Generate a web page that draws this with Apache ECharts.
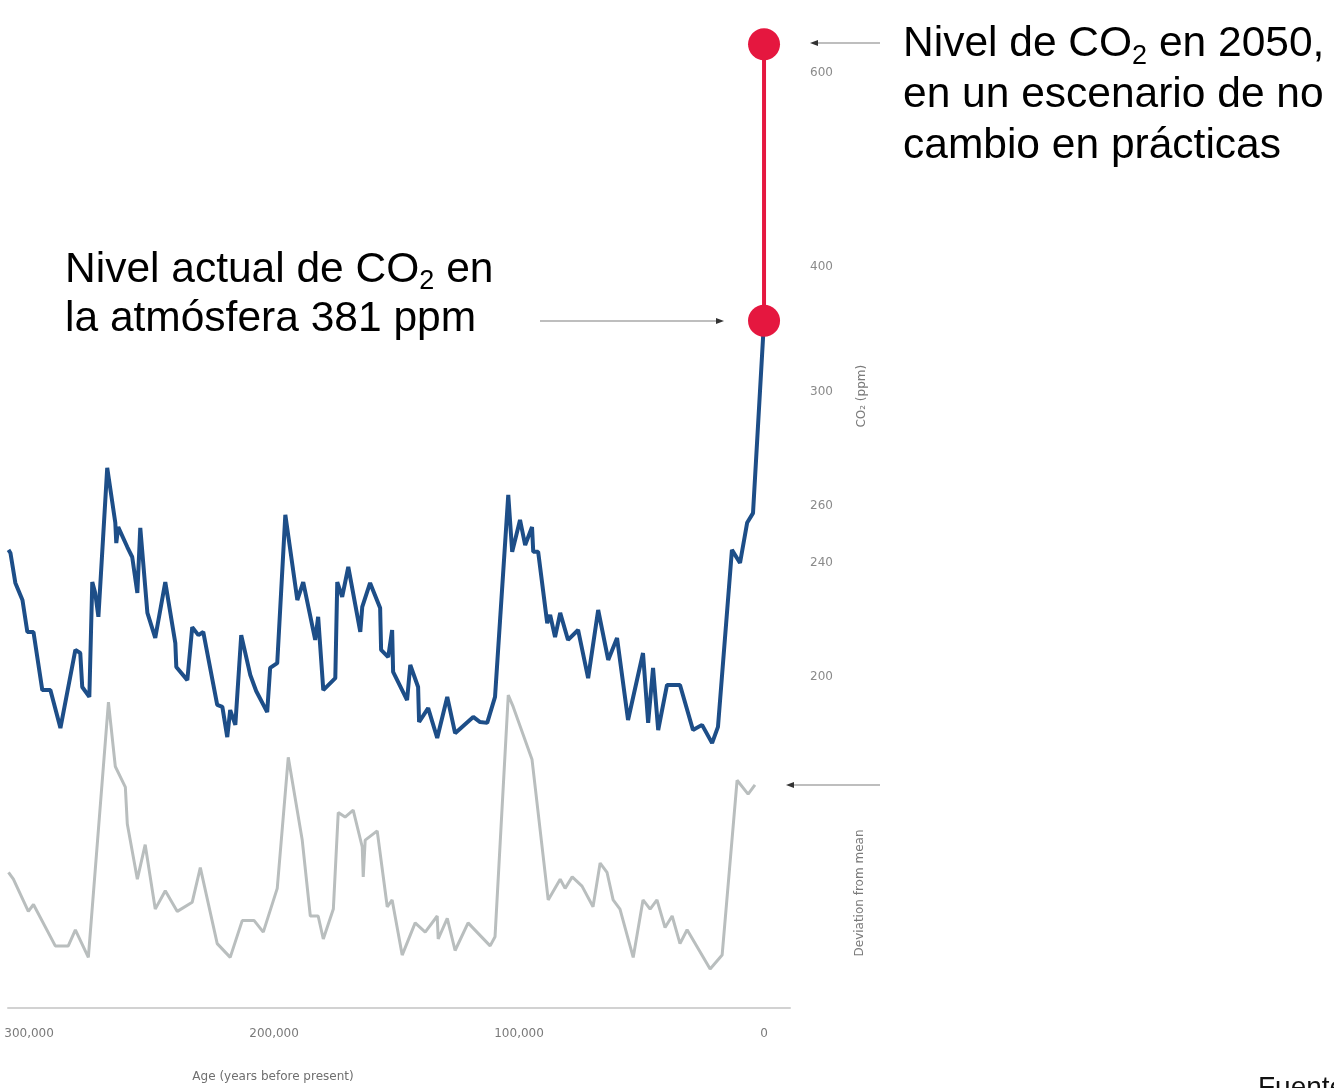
<!DOCTYPE html>
<html lang="es">
<head>
<meta charset="utf-8">
<title>CO2 y temperatura - 300.000 años</title>
<script src="https://cdn.jsdelivr.net/npm/echarts@6.0.0/dist/echarts.min.js"></script>
<style>
  html, body { margin: 0; padding: 0; background: #fff; }
  #chart { width: 1334px; height: 1088px; }
</style>
</head>
<body>
<div id="chart"></div>
<script>
// edad en miles de años antes del presente
const co2Age = [308.4, 307.6, 305.6, 302.7, 300.7, 298.2, 294.6, 291.3, 287.2, 281.1, 279.1, 278.3, 275.4, 274.2, 273.0, 271.7, 268.1, 264.8, 264.4, 263.6, 259.9, 257.9, 255.8, 254.6, 251.7, 248.5, 244.4, 240.3, 239.9, 235.4, 233.4, 230.9, 228.9, 223.2, 221.1, 219.1, 217.9, 215.8, 213.4, 209.7, 207.3, 202.8, 201.6, 198.7, 195.4, 190.5, 188.1, 183.2, 182.0, 179.9, 175.0, 174.2, 172.2, 169.7, 164.8, 164.0, 160.8, 156.7, 156.3, 153.4, 151.8, 151.4, 145.7, 144.4, 141.2, 140.8, 137.1, 133.4, 129.3, 126.1, 118.7, 115.9, 113.0, 109.8, 104.4, 102.8, 99.6, 97.5, 94.7, 94.2, 92.2, 88.5, 87.3, 85.3, 83.2, 80.0, 75.9, 71.8, 67.7, 63.6, 60.0, 55.5, 49.4, 47.3, 45.3, 43.2, 39.6, 34.3, 29.0, 25.3, 21.2, 18.8, 13.1, 9.8, 6.9, 4.5, 0]
const co2Ppm = [244.6, 243.5, 233.0, 227.0, 215.8, 215.8, 195.4, 195.4, 182.1, 209.5, 208.4, 196.5, 193.0, 233.3, 229.5, 221.1, 273.4, 254.1, 247.0, 252.6, 245.6, 242.1, 229.5, 252.3, 222.5, 213.7, 233.3, 211.9, 203.5, 198.9, 217.5, 214.7, 215.8, 190.2, 189.5, 178.9, 188.4, 183.2, 214.7, 200.7, 195.1, 187.7, 203.2, 204.9, 256.9, 227.0, 233.3, 213.0, 221.1, 195.4, 199.6, 233.3, 228.1, 238.6, 215.8, 224.6, 233.0, 224.2, 209.5, 207.0, 216.5, 201.8, 191.9, 204.2, 196.5, 184.2, 189.1, 178.6, 193.0, 180.3, 186.0, 184.2, 183.9, 193.0, 263.9, 243.9, 255.1, 246.3, 252.6, 243.9, 243.9, 218.9, 221.8, 214.0, 222.5, 213.0, 216.5, 199.6, 223.5, 206.0, 213.7, 184.9, 208.4, 183.9, 203.2, 181.4, 197.2, 197.2, 181.4, 183.2, 176.8, 182.5, 244.6, 240.0, 254.1, 257.5, 381]

const tempAge = [308.4, 306.4, 300.3, 298.2, 289.3, 284.0, 281.1, 275.8, 267.6, 264.8, 260.7, 259.9, 255.8, 252.6, 248.5, 244.4, 239.5, 233.4, 230.1, 223.2, 217.9, 213.0, 208.1, 204.4, 198.7, 194.2, 188.5, 185.2, 182.0, 179.9, 175.8, 173.8, 171.0, 167.7, 164.0, 163.6, 162.8, 157.9, 153.8, 151.8, 147.7, 142.4, 138.3, 133.4, 133.0, 129.3, 126.1, 120.8, 111.8, 109.8, 104.4, 102.4, 94.7, 88.1, 83.2, 81.2, 78.3, 74.3, 69.8, 66.9, 64.1, 61.6, 58.8, 53.4, 49.4, 46.5, 43.7, 40.4, 37.5, 34.3, 31.4, 22.0, 17.1, 11.0, 6.5, 3.7]
const tempDev = [-3.8, -4.1, -5.5, -5.2, -7.0, -7.0, -6.3, -7.5, 3.6, 0.8, -0.1, -1.7, -4.1, -2.6, -5.4, -4.6, -5.5, -5.1, -3.6, -6.9, -7.5, -5.9, -5.9, -6.4, -4.5, 1.2, -2.4, -5.7, -5.7, -6.7, -5.4, -1.2, -1.4, -1.1, -2.7, -4.0, -2.4, -2.0, -5.3, -5.0, -7.4, -6.0, -6.4, -5.7, -6.7, -5.8, -7.2, -6.0, -7.0, -6.6, 3.9, 3.4, 1.1, -5.0, -4.1, -4.5, -4.0, -4.4, -5.3, -3.4, -3.8, -5.0, -5.4, -7.5, -5.0, -5.4, -5.0, -6.2, -5.7, -6.9, -6.3, -8.0, -7.4, 0.2, -0.4, 0.0]

// hoy (381 ppm) y 2050 sin cambios
const scenarioAge = [0, 0]
const scenarioPpm = [381, 610]

const co2Ticks = [200, 240, 260, 300, 400, 600]
const ageTicks = [300, 200, 100, 0]
const co2Breaks = [[310, 366], [420, 552]]

const chart = echarts.init(document.getElementById('chart'))

const pairs = (xs, ys) => xs.map((x, i) => [x, ys[i]])

const arrow = (x1, x2, y) => {
  const d = x2 > x1 ? -1 : 1
  return {
    type: 'group',
    children: [
      { type: 'line', shape: { x1, y1: y, x2: x2 + d * 4, y2: y }, style: { stroke: '#a8a8a8', lineWidth: 1.5 } },
      { type: 'polygon', shape: { points: [[x2, y], [x2 + d * 8, y - 3], [x2 + d * 8, y + 3]] }, style: { fill: '#333' } },
    ],
  }
}

const bigText = { fontSize: 42.5, fontFamily: 'Liberation Sans', color: '#111' }
const subText = { fontSize: 27, fontFamily: 'Liberation Sans', color: '#111', verticalAlign: 'bottom', lineHeight: 27 }

const ageAxis = (gridIndex, show) => ({
  type: 'value',
  gridIndex,
  min: -10.6,
  max: 308.6,
  inverse: true,
  show,
  splitLine: { show: false },
  axisTick: { show: false },
  axisLine: { show: true, onZero: false, lineStyle: { color: '#d2d2d2', width: 2 } },
  axisLabel: {
    customValues: ageTicks,
    margin: 20,
    color: '#7a7a7a',
    fontSize: 12,
    fontFamily: 'DejaVu Sans',
    formatter: v => (v * 1000).toLocaleString('en-US'),
  },
})

const option = {
  backgroundColor: '#fff',
  animation: false,
  grid: [
    { left: 8, right: 544, top: 30, height: 732.5 },
    { left: 8, right: 544, top: 679.1, bottom: 80 },
  ],
  xAxis: [ageAxis(0, false), ageAxis(1, true)],
  yAxis: [
    {
      type: 'value',
      gridIndex: 0,
      position: 'right',
      min: 170,
      max: 615,
      breaks: co2Breaks.map(([start, end]) => ({ start, end, gap: 0 })),
      breakArea: { show: false },
      splitLine: { show: false },
      axisLine: { show: false },
      axisTick: { show: false },
      axisLabel: {
        customValues: co2Ticks,
        margin: 20,
        color: '#8a8a8a',
        fontSize: 12,
        fontFamily: 'DejaVu Sans',
      },
      name: 'CO₂ (ppm)',
      nameLocation: 'middle',
      nameRotate: 90,
      nameGap: 66,
      nameTextStyle: { color: '#7a7a7a', fontSize: 12, fontFamily: 'DejaVu Sans' },
    },
    {
      type: 'value',
      gridIndex: 1,
      min: -9.7,
      max: 4.6,
      show: false,
    },
  ],
  graphic: [
    {
      type: 'text', x: 65, y: 246,
      style: {
        text: '{a|Nivel actual de CO}{s|2}{a| en}\n{a|la atmósfera 381 ppm}',
        rich: { a: { ...bigText, lineHeight: 49 }, s: subText },
      },
    },
    {
      type: 'text', x: 903, y: 19,
      style: {
        text: '{a|Nivel de CO}{s|2}{a| en 2050,}\n{a|en un escenario de no}\n{a|cambio en prácticas}',
        rich: { a: { ...bigText, lineHeight: 51 }, s: subText },
      },
    },
    {
      type: 'text', x: 1258, y: 1074,
      style: { text: 'Fuente:', font: '28px "Liberation Sans"', fill: '#111' },
    },
    {
      type: 'text', x: 273, y: 1077,
      style: {
        text: 'Age (years before present)', font: '12px "DejaVu Sans"', fill: '#6f6f6f',
        textAlign: 'center', textVerticalAlign: 'middle',
      },
    },
    {
      type: 'text', x: 860, y: 893, rotation: Math.PI / 2,
      style: {
        text: 'Deviation from mean', font: '12px "DejaVu Sans"', fill: '#7a7a7a',
        textAlign: 'center', textVerticalAlign: 'middle',
      },
    },
    arrow(540, 724, 321),
    arrow(880, 810, 43),
    arrow(880, 786, 785),
  ],
  series: [
    {
      name: 'Deviation from mean',
      type: 'line',
      xAxisIndex: 1,
      yAxisIndex: 1,
      data: pairs(tempAge, tempDev),
      showSymbol: false,
      lineStyle: { color: '#b9bebe', width: 3 },
    },
    {
      name: 'CO₂',
      type: 'line',
      xAxisIndex: 0,
      yAxisIndex: 0,
      data: pairs(co2Age, co2Ppm),
      showSymbol: false,
      lineStyle: { color: '#1d4e88', width: 4 },
    },
    {
      name: 'CO₂ 2050',
      type: 'line',
      xAxisIndex: 0,
      yAxisIndex: 0,
      data: pairs(scenarioAge, scenarioPpm),
      symbol: 'circle',
      symbolSize: 32,
      itemStyle: { color: '#e5173f' },
      lineStyle: { color: '#e5173f', width: 4 },
      z: 5,
    },
  ],
}

chart.setOption(option)
window.addEventListener('resize', () => chart.resize())
</script>
</body>
</html>
